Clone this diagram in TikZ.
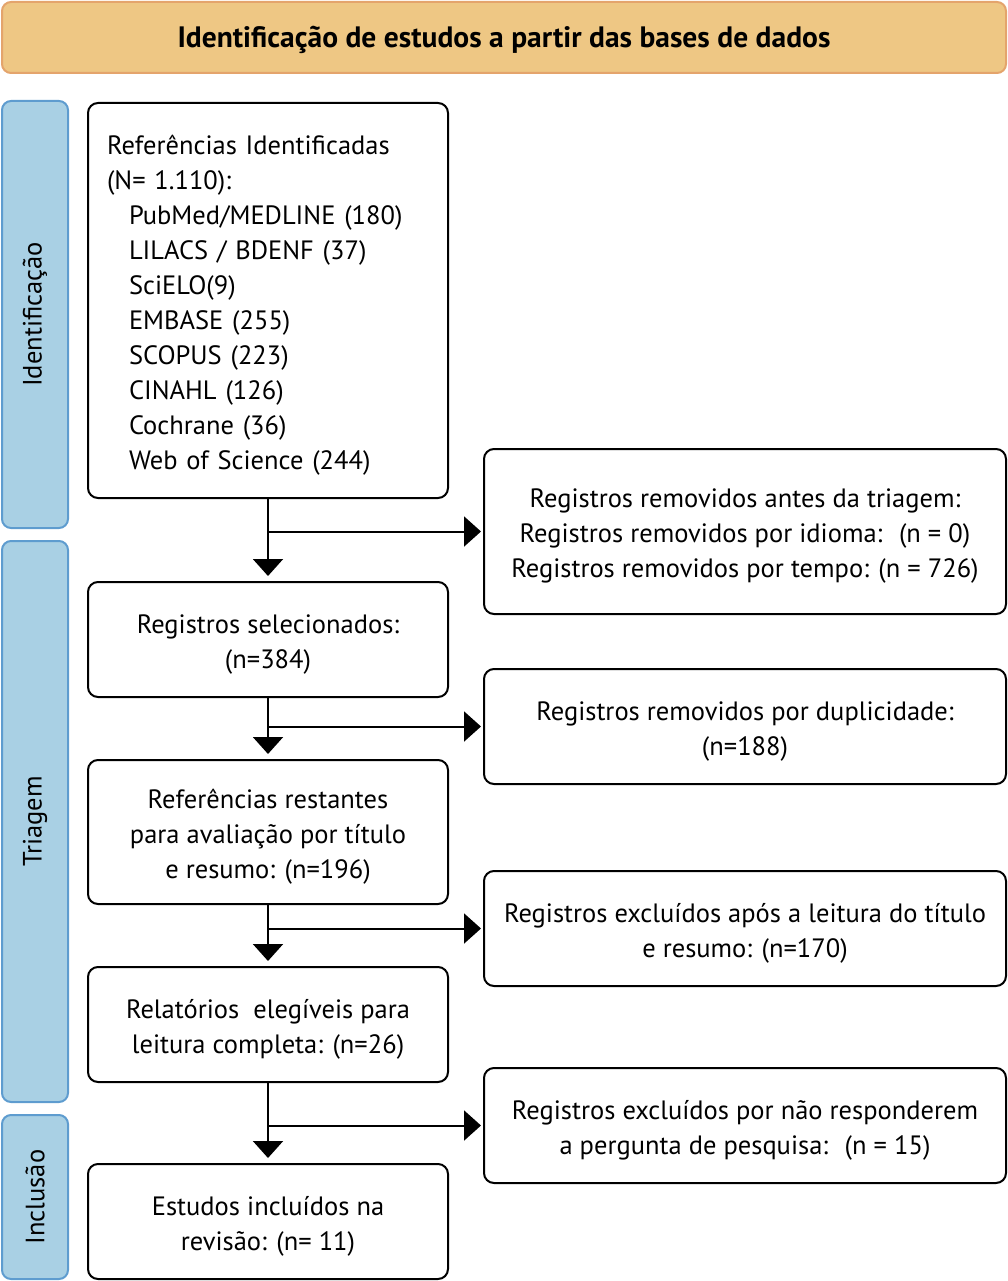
\documentclass[tikz,border=0pt]{standalone}
\usepackage{fontspec}
\setmainfont{PT Sans}
\usetikzlibrary{arrows.meta}
\definecolor{hdrfill}{HTML}{EEC784}
\definecolor{hdrdraw}{HTML}{E4A46C}
\definecolor{sidefill}{HTML}{A9D0E4}
\definecolor{sidedraw}{HTML}{5E9CCF}
\newcommand\tstr{\rule{0pt}{28pt}}
\begin{document}
\begin{tikzpicture}[x=1pt,y=-1pt,
  box/.style={draw=black,line width=2pt,rounded corners=10pt,fill=white,inner sep=0pt,
    font=\fontsize{26.5}{35}\selectfont,align=center},
  side/.style={draw=sidedraw,line width=2pt,rounded corners=9pt,fill=sidefill,inner sep=0pt},
  sidelabel/.style={rotate=90,font=\fontsize{26.5}{30}\selectfont},
  arr/.style={line width=2pt,-{Triangle[width=30pt,length=17pt]}}]
\useasboundingbox (0,0) rectangle (1008,1281);
% header
\node[draw=hdrdraw,fill=hdrfill,line width=2pt,rounded corners=9pt,minimum width=1004pt,minimum height=71pt,inner sep=0pt,font=\bfseries\fontsize{29.5}{30}\selectfont] (hdr) at (504,37.5) {\rule{0pt}{26pt}Identificação de estudos a partir das bases de dados};
% side bars
\node[side,minimum width=66pt,minimum height=427pt] (s1) at (35,314.5) {};
\node[sidelabel] (l1) at (35,314.5) {Identificação};
\node[side,minimum width=66pt,minimum height=561pt] (s2) at (35,821.5) {};
\node[sidelabel] (l2) at (35,821.5) {Triagem};
\node[side,minimum width=66pt,minimum height=164pt] (s3) at (35,1197) {};
\node[sidelabel] (l3) at (35,1197) {Inclusão};
% left boxes
\node[box,minimum width=360pt,minimum height=395pt,align=left,text width=322pt] (b1) at (268,300.5) {\tstr Referências Identificadas\\(N= 1.110):\\
\hspace*{22pt}PubMed/MEDLINE (180)\\
\hspace*{22pt}LILACS / BDENF (37)\\
\hspace*{22pt}SciELO(9)\\
\hspace*{22pt}EMBASE (255)\\
\hspace*{22pt}SCOPUS (223)\\
\hspace*{22pt}CINAHL (126)\\
\hspace*{22pt}Cochrane (36)\\
\hspace*{22pt}Web of Science (244)};
\node[box,minimum width=360pt,minimum height=115pt] (b2) at (268,639.5) {\tstr Registros selecionados:\\(n=384)};
\node[box,minimum width=360pt,minimum height=144pt] (b3) at (268,832) {\tstr Referências restantes\\para avaliação por título\\e resumo: (n=196)};
\node[box,minimum width=360pt,minimum height=115pt] (b4) at (268,1024.5) {\tstr Relatórios \ elegíveis para\\leitura completa: (n=26)};
\node[box,minimum width=360pt,minimum height=115pt] (b5) at (268,1221.5) {\tstr Estudos incluídos na\\revisão: (n= 11)};
% right boxes
\node[box,minimum width=522pt,minimum height=165pt] (r1) at (745,531.5) {\tstr Registros removidos antes da triagem:\\Registros removidos por idioma: \ (n = 0)\\Registros removidos por tempo: (n = 726)};
\node[box,minimum width=522pt,minimum height=115pt] (r2) at (745,726.5) {\tstr Registros removidos por duplicidade:\\(n=188)};
\node[box,minimum width=522pt,minimum height=115pt] (r3) at (745,928.5) {\tstr Registros excluídos após a leitura do título\\e resumo: (n=170)};
\node[box,minimum width=522pt,minimum height=115pt] (r4) at (745,1125.5) {\tstr Registros excluídos por não responderem\\a pergunta de pesquisa: \ (n = 15)};
% arrows
\draw[arr] (b1.south) -- ([yshift=5pt]b2.north);
\draw[arr] (r1.west -| b1.south) -- ([xshift=-2pt]r1.west);
\draw[arr] (b2.south) -- ([yshift=5pt]b3.north);
\draw[arr] (r2.west -| b2.south) -- ([xshift=-2pt]r2.west);
\draw[arr] (b3.south) -- ([yshift=5pt]b4.north);
\draw[arr] (r3.west -| b3.south) -- ([xshift=-2pt]r3.west);
\draw[arr] (b4.south) -- ([yshift=5pt]b5.north);
\draw[arr] (r4.west -| b4.south) -- ([xshift=-2pt]r4.west);
\end{tikzpicture}
\end{document}
